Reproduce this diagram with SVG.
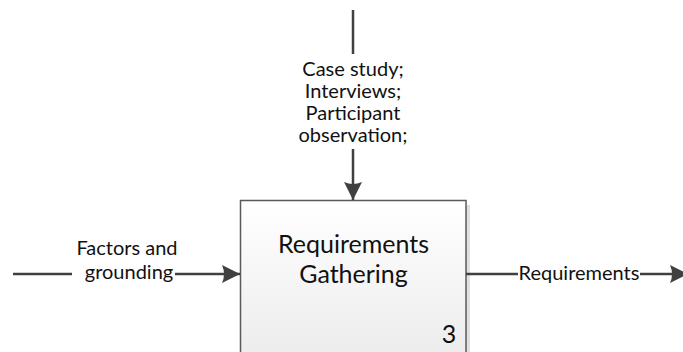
<svg xmlns="http://www.w3.org/2000/svg" width="683" height="352" viewBox="0 0 683 352">
  <defs>
    <linearGradient id="boxFill" x1="0" y1="0" x2="0" y2="1">
      <stop offset="0" stop-color="#ffffff"/>
      <stop offset="1" stop-color="#ececec"/>
    </linearGradient>
    <marker id="arrow" viewBox="0 0 18 18" refX="18" refY="9" markerWidth="18" markerHeight="18" markerUnits="userSpaceOnUse" orient="auto">
      <path d="M0,0 L18,9 L0,18 Q4,9 0,0 Z" fill="#404040"/>
    </marker>
  </defs>
  <style>
    .edge { stroke: #404040; stroke-width: 2.5; fill: none; }
    .lbl { font-family: Lato, "Liberation Sans", sans-serif; font-size: 20px; fill: #111111; text-anchor: middle; }
    .title { font-family: Lato, "Liberation Sans", sans-serif; font-size: 25px; fill: #111111; text-anchor: middle; }
  </style>
  <rect width="683" height="352" fill="#ffffff"/>

  <g id="activity-3">
    <rect x="245" y="205" width="225" height="160" fill="#e0e0e0"/>
    <rect x="240.5" y="200.5" width="225.5" height="160" fill="url(#boxFill)" stroke="#5a5a5a" stroke-width="1.5"/>
    <text class="title" x="353.5" y="253">Requirements</text>
    <text class="title" x="353.5" y="283">Gathering</text>
    <text class="title" x="449" y="343">3</text>
  </g>

  <g id="connectors">
    <!-- control from above -->
    <line class="edge" x1="353" y1="10" x2="353" y2="54"/>
    <line class="edge" x1="353" y1="149" x2="353" y2="200" marker-end="url(#arrow)"/>
    <!-- input from left -->
    <line class="edge" x1="13" y1="274" x2="72" y2="274"/>
    <line class="edge" x1="175" y1="274" x2="240" y2="274" marker-end="url(#arrow)"/>
    <!-- output to right -->
    <line class="edge" x1="466" y1="274" x2="518" y2="274"/>
    <line class="edge" x1="640" y1="274" x2="688" y2="274" marker-end="url(#arrow)"/>
  </g>

  <g id="labels">
    <text class="lbl" x="353" y="76">Case study;</text>
    <text class="lbl" x="353" y="98">Interviews;</text>
    <text class="lbl" x="353" y="120">Participant</text>
    <text class="lbl" x="353" y="142">observation;</text>
    <text class="lbl" x="127" y="255">Factors and</text>
    <text class="lbl" x="129" y="279">grounding</text>
    <text class="lbl" x="579" y="280">Requirements</text>
  </g>
</svg>
